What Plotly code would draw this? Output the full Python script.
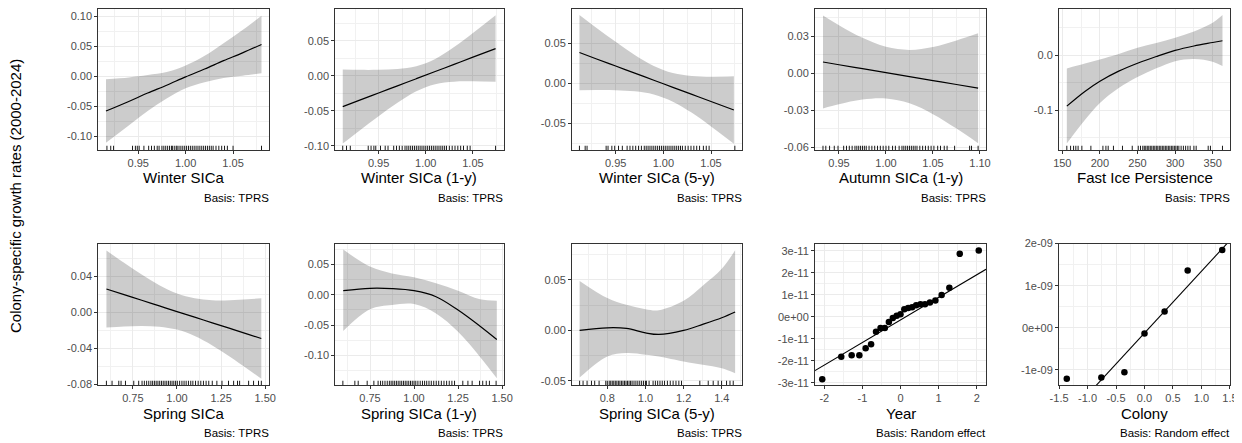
import plotly.graph_objects as go

FONT = "Liberation Sans, Arial, Helvetica, sans-serif"
OFF = 8                      # page body margin in the browser
W, H = 1242 - OFF, 443 - OFF

# ---------------- data ----------------
# Panel 1: Winter SICa
p1_x = [0.916, 0.94, 0.96, 0.98, 1.00, 1.02, 1.04, 1.06, 1.08]
p1_fit = [-0.058, -0.042, -0.028, -0.015, -0.001, 0.012, 0.026, 0.039, 0.053]
p1_hi = [-0.005, -0.002, 0.002, 0.007, 0.018, 0.034, 0.055, 0.077, 0.101]
p1_lo = [-0.111, -0.082, -0.058, -0.037, -0.020, -0.010, -0.003, 0.001, 0.005]
p1_rug = [0.917, 0.921, 0.924, 0.944, 0.947, 0.949, 0.951, 0.956, 0.961, 0.964, 0.967, 0.970, 0.972,
          0.975, 0.977, 0.979, 0.981, 0.983, 0.985, 0.986, 0.988, 0.990, 0.991, 0.993, 0.995, 0.997,
          0.999, 1.001, 1.003, 1.005, 1.007, 1.009, 1.011, 1.013, 1.015, 1.017, 1.019, 1.021, 1.023,
          1.025, 1.027, 1.029, 1.032, 1.035, 1.038, 1.041, 1.044, 1.050, 1.080]

# Panel 2: Winter SICa (1-y)
p2_x = [0.912, 0.93, 0.95, 0.97, 0.99, 1.01, 1.03, 1.05, 1.074]
p2_fit = [-0.044, -0.0348, -0.0246, -0.0144, -0.0042, 0.0060, 0.0163, 0.0265, 0.0388]
p2_hi = [0.0088, 0.0084, 0.0085, 0.0097, 0.0137, 0.024, 0.041, 0.061, 0.0863]
p2_lo = [-0.0968, -0.078, -0.0577, -0.0385, -0.0221, -0.012, -0.0084, -0.008, -0.0087]
p2_rug = [0.912, 0.916, 0.920, 0.939, 0.942, 0.945, 0.947, 0.952, 0.957, 0.960, 0.966, 0.969, 0.972,
          0.975, 0.978, 0.980, 0.982, 0.984, 0.986, 0.988, 0.990, 0.992, 0.994, 0.996, 0.998, 1.000,
          1.002, 1.004, 1.006, 1.008, 1.010, 1.012, 1.014, 1.016, 1.018, 1.020, 1.022, 1.025, 1.028,
          1.031, 1.034, 1.037, 1.040, 1.044, 1.047, 1.074]

# Panel 3: Winter SICa (5-y)
p3_x = [0.912, 0.93, 0.95, 0.97, 0.99, 1.01, 1.03, 1.05, 1.074]
p3_fit = [0.0383, 0.0303, 0.0215, 0.0126, 0.0038, -0.0051, -0.0139, -0.0228, -0.0334]
p3_hi = [0.0852, 0.069, 0.0516, 0.0352, 0.0215, 0.0127, 0.0091, 0.0082, 0.0086]
p3_lo = [-0.0086, -0.0084, -0.0086, -0.0100, -0.0139, -0.0229, -0.0369, -0.0538, -0.0754]
p3_rug = [0.912, 0.918, 0.920, 0.940, 0.942, 0.946, 0.949, 0.953, 0.957, 0.962, 0.965, 0.968, 0.971,
          0.974, 0.977, 0.980, 0.982, 0.984, 0.986, 0.988, 0.990, 0.992, 0.994, 0.996, 0.998, 1.000,
          1.002, 1.004, 1.006, 1.008, 1.010, 1.012, 1.014, 1.016, 1.018, 1.020, 1.023, 1.026, 1.029,
          1.032, 1.035, 1.038, 1.042, 1.045, 1.048, 1.075]

# Panel 4: Autumn SICa (1-y)
p4_x = [0.933, 0.95, 0.975, 1.0, 1.025, 1.05, 1.075, 1.098]
p4_fit = [0.0091, 0.0069, 0.0037, 0.0005, -0.0027, -0.0059, -0.0091, -0.0121]
p4_hi = [0.0467, 0.0389, 0.0287, 0.0214, 0.0189, 0.0213, 0.0266, 0.0324]
p4_lo = [-0.0285, -0.0251, -0.0213, -0.0204, -0.0243, -0.0331, -0.0448, -0.0566]
p4_rug = [0.933, 0.936, 0.940, 0.945, 0.949, 0.955, 0.958, 0.961, 0.964, 0.967, 0.969, 0.971, 0.973,
          0.975, 0.977, 0.979, 0.982, 0.985, 0.988, 0.991, 0.994, 0.997, 1.000, 1.003, 1.007, 1.010,
          1.014, 1.017, 1.019, 1.021, 1.023, 1.025, 1.027, 1.029, 1.031, 1.033, 1.036, 1.039, 1.042,
          1.045, 1.048, 1.051, 1.055, 1.058, 1.062, 1.065, 1.073, 1.089, 1.091, 1.098]

# Panel 5: Fast Ice Persistence
p5_x = [156, 180, 200, 225, 250, 275, 300, 325, 350, 363]
p5_fit = [-0.0927, -0.066, -0.0475, -0.0292, -0.0148, -0.0025, 0.0085, 0.0165, 0.0228, 0.026]
p5_hi = [-0.0242, -0.0155, -0.008, 0.002, 0.0133, 0.022, 0.0315, 0.043, 0.0588, 0.0727]
p5_lo = [-0.1606, -0.118, -0.087, -0.060, -0.040, -0.024, -0.011, -0.007, -0.012, -0.020]
p5_rug = [156, 161, 165, 168, 171, 176, 188, 204, 208, 211, 218, 230, 243, 251, 254, 257, 259, 261,
          263, 265, 267, 269, 271, 273, 275, 277, 279, 281, 283, 285, 287, 289, 291, 293, 295, 297,
          299, 301, 303, 305, 308, 311, 314, 317, 320, 325, 328, 344, 347, 363]

# Panel 6: Spring SICa
p6_x = [0.6, 0.7, 0.8, 0.9, 1.0, 1.1, 1.2, 1.3, 1.4, 1.478]
p6_fit = [0.026, 0.0197, 0.0135, 0.0072, 0.0009, -0.0053, -0.0116, -0.0178, -0.0241, -0.029]
p6_hi = [0.0688, 0.055, 0.042, 0.0302, 0.0209, 0.0157, 0.0135, 0.0135, 0.0145, 0.0157]
p6_lo = [-0.0168, -0.0156, -0.015, -0.0158, -0.0191, -0.0263, -0.0367, -0.0491, -0.0627, -0.0737]
p6_rug = [0.600, 0.632, 0.670, 0.683, 0.708, 0.755, 0.783, 0.802, 0.815, 0.828, 0.840, 0.852, 0.862,
          0.872, 0.882, 0.892, 0.902, 0.912, 0.922, 0.932, 0.942, 0.952, 0.962, 0.972, 0.982, 0.992,
          1.002, 1.015, 1.028, 1.040, 1.052, 1.065, 1.078, 1.090, 1.105, 1.120, 1.135, 1.150, 1.165,
          1.180, 1.200, 1.226, 1.255, 1.292, 1.321, 1.343, 1.355, 1.406, 1.434, 1.462, 1.478]

# Panel 7: Spring SICa (1-y)
p7_x = [0.598, 0.75, 0.875, 1.0, 1.125, 1.25, 1.375, 1.47]
p7_fit = [0.0066, 0.0105, 0.0100, 0.0066, -0.0033, -0.0253, -0.052, -0.0739]
p7_hi = [0.0745, 0.0464, 0.035, 0.0288, 0.019, 0.0066, -0.0077, -0.010]
p7_lo = [-0.060, -0.0242, -0.017, -0.0154, -0.031, -0.0613, -0.1026, -0.138]
p7_rug = [0.596, 0.664, 0.683, 0.734, 0.772, 0.796, 0.810, 0.822, 0.835, 0.848, 0.860, 0.870, 0.880,
          0.890, 0.900, 0.910, 0.920, 0.930, 0.940, 0.950, 0.960, 0.970, 0.980, 0.990, 1.000, 1.010,
          1.022, 1.035, 1.048, 1.060, 1.072, 1.085, 1.098, 1.112, 1.126, 1.140, 1.155, 1.170, 1.185,
          1.200, 1.215, 1.230, 1.277, 1.306, 1.330, 1.372, 1.390, 1.410, 1.428, 1.466]

# Panel 8: Spring SICa (5-y)
p8_x = [0.655, 0.8, 0.9, 1.0, 1.07, 1.2, 1.3, 1.4, 1.47]
p8_fit = [0.0, 0.0026, 0.002, -0.0024, -0.004, 0.0, 0.006, 0.0126, 0.0183]
p8_hi = [0.049, 0.032, 0.0253, 0.021, 0.020, 0.0293, 0.0443, 0.061, 0.0793]
p8_lo = [-0.0467, -0.0257, -0.0224, -0.024, -0.0257, -0.0307, -0.034, -0.0374, -0.0424]
p8_rug = [0.655, 0.673, 0.694, 0.717, 0.734, 0.757, 0.792, 0.800, 0.810, 0.818, 0.826, 0.834, 0.842,
          0.850, 0.858, 0.866, 0.874, 0.882, 0.890, 0.898, 0.906, 0.914, 0.922, 0.930, 0.940, 0.950,
          0.960, 0.970, 0.980, 0.990, 1.000, 1.005, 1.019, 1.040, 1.052, 1.064, 1.076, 1.088, 1.100,
          1.115, 1.130, 1.145, 1.160, 1.175, 1.189, 1.285, 1.329, 1.355, 1.381, 1.399, 1.425, 1.443,
          1.460]

# Panel 9: Year random effect (QQ)
p9_theo = [-2.054, -1.555, -1.282, -1.080, -0.915, -0.772, -0.643, -0.524, -0.412, -0.305, -0.202,
           -0.100, 0.0, 0.100, 0.202, 0.305, 0.412, 0.524, 0.643, 0.772, 0.915, 1.080, 1.282, 1.555,
           2.054]
p9_sample = [-2.84e-11, -1.81e-11, -1.75e-11, -1.75e-11, -1.43e-11, -1.24e-11, -0.68e-11, -0.51e-11,
             -0.51e-11, -0.23e-11, -0.05e-11, 0.05e-11, 0.12e-11, 0.35e-11, 0.41e-11, 0.44e-11,
             0.53e-11, 0.57e-11, 0.57e-11, 0.65e-11, 0.75e-11, 1.00e-11, 1.33e-11, 2.87e-11, 3.02e-11]
p9_intercept = -0.14e-11
p9_slope = 1.027e-11

# Panel 10: Colony random effect (QQ)
p10_theo = [-1.365, -0.758, -0.353, 0.0, 0.353, 0.758, 1.365]
p10_sample = [-1.21e-9, -1.18e-9, -1.055e-9, -0.134e-9, 0.386e-9, 1.362e-9, 1.85e-9]
p10_intercept = -0.125e-9
p10_slope = 1.468e-9

# tick labels
wint_xt = [0.95, 1.00, 1.05]
wint_xl = ["0.95", "1.00", "1.05"]
aut_xt = [0.95, 1.00, 1.05, 1.10]
aut_xl = ["0.95", "1.00", "1.05", "1.10"]
fip_xt = [150, 200, 250, 300, 350]
fip_xl = ["150", "200", "250", "300", "350"]
spr_xt = [0.75, 1.00, 1.25, 1.50]
spr_xl = ["0.75", "1.00", "1.25", "1.50"]
spr5_xt = [0.8, 1.0, 1.2, 1.4]
spr5_xl = ["0.8", "1.0", "1.2", "1.4"]
yr_xt = [-2, -1, 0, 1, 2]
yr_xl = ["-2", "-1", "0", "1", "2"]
col_xt = [-1.5, -1.0, -0.5, 0.0, 0.5, 1.0, 1.5]
col_xl = ["-1.5", "-1.0", "-0.5", "0.0", "0.5", "1.0", "1.5"]

p1_yt = [-0.10, -0.05, 0.00, 0.05, 0.10]
p1_yl = ["-0.10", "-0.05", "0.00", "0.05", "0.10"]
p2_yt = [-0.10, -0.05, 0.00, 0.05]
p2_yl = ["-0.10", "-0.05", "0.00", "0.05"]
p3_yt = [-0.05, 0.00, 0.05]
p3_yl = ["-0.05", "0.00", "0.05"]
p4_yt = [-0.06, -0.03, 0.00, 0.03]
p4_yl = ["-0.06", "-0.03", "0.00", "0.03"]
p5_yt = [-0.2, -0.1, 0.0, 0.1]
p5_yl = ["-0.2", "-0.1", "0.0", "0.1"]
p6_yt = [-0.08, -0.04, 0.00, 0.04]
p6_yl = ["-0.08", "-0.04", "0.00", "0.04"]
p7_yt = [-0.15, -0.10, -0.05, 0.00, 0.05]
p7_yl = ["-0.15", "-0.10", "-0.05", "0.00", "0.05"]
p8_yt = [-0.05, 0.00, 0.05]
p8_yl = ["-0.05", "0.00", "0.05"]
p9_yt = [-3e-11, -2e-11, -1e-11, 0, 1e-11, 2e-11, 3e-11]
p9_yl = ["-3e-11", "-2e-11", "-1e-11", "0e+00", "1e-11", "2e-11", "3e-11"]
p10_yt = [-1e-9, 0, 1e-9, 2e-9]
p10_yl = ["-1e-09", "0e+00", "1e-09", "2e-09"]

titles = ["Winter SICa", "Winter SICa (1-y)", "Winter SICa (5-y)", "Autumn SICa (1-y)",
          "Fast Ice Persistence", "Spring SICa", "Spring SICa (1-y)", "Spring SICa (5-y)",
          "Year", "Colony"]
captions = ["Basis: TPRS"] * 8 + ["Basis: Random effect"] * 2
y_title = "Colony-specific growth rates (2000-2024)"

# ---------------- layout geometry (screen pixels) ----------------
cols = [(98.3, 269.0), (335.3, 503.5), (572.0, 742.0), (815.0, 986.0), (1059.0, 1230.0)]
rows = [(8.5, 150.0), (243.5, 385.0)]

panels = [
    dict(kind="s", x=p1_x, fit=p1_fit, hi=p1_hi, lo=p1_lo, rug=p1_rug, xr=[0.9079, 1.0879],
         yr=[-0.123, 0.113], xt=wint_xt, xl=wint_xl, yt=p1_yt, yl=p1_yl),
    dict(kind="s", x=p2_x, fit=p2_fit, hi=p2_hi, lo=p2_lo, rug=p2_rug, xr=[0.9041, 1.0824],
         yr=[-0.106, 0.096], xt=wint_xt, xl=wint_xl, yt=p2_yt, yl=p2_yl),
    dict(kind="s", x=p3_x, fit=p3_fit, hi=p3_hi, lo=p3_lo, rug=p3_rug, xr=[0.9042, 1.0825],
         yr=[-0.0832, 0.0932], xt=wint_xt, xl=wint_xl, yt=p3_yt, yl=p3_yl),
    dict(kind="s", x=p4_x, fit=p4_fit, hi=p4_hi, lo=p4_lo, rug=p4_rug, xr=[0.9245, 1.1064],
         yr=[-0.0621, 0.0524], xt=aut_xt, xl=aut_xl, yt=p4_yt, yl=p4_yl),
    dict(kind="s", x=p5_x, fit=p5_fit, hi=p5_hi, lo=p5_lo, rug=p5_rug, xr=[145.6, 373.0],
         yr=[-0.1724, 0.0846], xt=fip_xt, xl=fip_xl, yt=p5_yt, yl=p5_yl),
    dict(kind="s", x=p6_x, fit=p6_fit, hi=p6_hi, lo=p6_lo, rug=p6_rug, xr=[0.554, 1.5215],
         yr=[-0.0806, 0.0765], xt=spr_xt, xl=spr_xl, yt=p6_yt, yl=p6_yl),
    dict(kind="s", x=p7_x, fit=p7_fit, hi=p7_hi, lo=p7_lo, rug=p7_rug, xr=[0.553, 1.508],
         yr=[-0.149, 0.0845], xt=spr_xt, xl=spr_xl, yt=p7_yt, yl=p7_yl),
    dict(kind="s", x=p8_x, fit=p8_fit, hi=p8_hi, lo=p8_lo, rug=p8_rug, xr=[0.615, 1.506],
         yr=[-0.054, 0.086], xt=spr5_xt, xl=spr5_xl, yt=p8_yt, yl=p8_yl),
    dict(kind="q", theo=p9_theo, samp=p9_sample, b0=p9_intercept, b1=p9_slope, xr=[-2.244, 2.244],
         yr=[-3.1e-11, 3.34e-11], xt=yr_xt, xl=yr_xl, yt=p9_yt, yl=p9_yl),
    dict(kind="q", theo=p10_theo, samp=p10_sample, b0=p10_intercept, b1=p10_slope,
         xr=[-1.5015, 1.5015], yr=[-1.36e-9, 2.003e-9], xt=col_xt, xl=col_xl, yt=p10_yt, yl=p10_yl),
]


def minors(major, rng):
    step = major[1] - major[0]
    vals = [major[0] - step / 2] + [a + step / 2 for a in major]
    lo, hi = min(rng), max(rng)
    return [v for v in vals if lo <= v <= hi]


def px(xs):
    return (xs - OFF) / W


def py(ys):
    return 1 - (ys - OFF) / H


fig = go.Figure()
annotations = []
layout = {}

for i, p in enumerate(panels):
    r, c = divmod(i, 5)
    left, right = cols[c]
    top, bottom = rows[r]
    n = "" if i == 0 else str(i + 1)
    xa, ya = "x" + n, "y" + n

    axis_common = dict(
        showline=True, mirror=True, linecolor="#333333", linewidth=1,
        ticks="outside", ticklen=3, tickwidth=1, tickcolor="#333333",
        showgrid=True, gridcolor="#EBEBEB", gridwidth=1.1, zeroline=False,
        tickfont=dict(family=FONT, size=11, color="#4D4D4D"),
        tickmode="array", fixedrange=True, automargin=False,
    )
    layout["xaxis" + n] = dict(
        axis_common, domain=[px(left), px(right)], anchor=ya, range=p["xr"],
        tickvals=p["xt"], ticktext=p["xl"],
        minor=dict(tickmode="array", tickvals=minors(p["xt"], p["xr"]), showgrid=True,
                   gridcolor="#F1F1F1", gridwidth=0.6, ticks=""),
    )
    layout["yaxis" + n] = dict(
        axis_common, domain=[py(bottom), py(top)], anchor=xa, range=p["yr"],
        tickvals=p["yt"], ticktext=p["yl"],
        minor=dict(tickmode="array", tickvals=minors(p["yt"], p["yr"]), showgrid=True,
                   gridcolor="#F1F1F1", gridwidth=0.6, ticks=""),
    )

    if p["kind"] == "s":
        xs = list(p["x"])
        fig.add_trace(go.Scatter(
            x=xs, y=p["lo"], xaxis=xa, yaxis=ya, mode="lines",
            line=dict(width=0, shape="spline", color="rgba(0,0,0,0)"), hoverinfo="skip"))
        fig.add_trace(go.Scatter(
            x=xs, y=p["hi"], xaxis=xa, yaxis=ya, mode="lines", fill="tonexty",
            fillcolor="rgba(0,0,0,0.2)", line=dict(width=0, shape="spline", color="rgba(0,0,0,0)"),
            hoverinfo="skip"))
        fig.add_trace(go.Scatter(
            x=xs, y=p["fit"], xaxis=xa, yaxis=ya, mode="lines",
            line=dict(color="black", width=1.2, shape="spline"), hoverinfo="skip"))
        y0 = p["yr"][0]
        y1 = y0 + 0.03 * (p["yr"][1] - p["yr"][0])
        rx, ry = [], []
        for v in p["rug"]:
            rx += [v, v, None]
            ry += [y0, y1, None]
        fig.add_trace(go.Scatter(
            x=rx, y=ry, xaxis=xa, yaxis=ya, mode="lines",
            line=dict(color="black", width=0.9), hoverinfo="skip"))
    else:
        lx = p["xr"]
        ly = [p["b0"] + p["b1"] * v for v in lx]
        fig.add_trace(go.Scatter(
            x=lx, y=ly, xaxis=xa, yaxis=ya, mode="lines",
            line=dict(color="black", width=1.1), hoverinfo="skip"))
        fig.add_trace(go.Scatter(
            x=p["theo"], y=p["samp"], xaxis=xa, yaxis=ya, mode="markers",
            marker=dict(color="black", size=6.5), hoverinfo="skip"))

    annotations.append(dict(
        text=titles[i], xref="paper", yref="paper", x=px((left + right) / 2),
        y=py(bottom + 28), xanchor="center", yanchor="middle", showarrow=False,
        font=dict(family=FONT, size=15, color="black")))
    annotations.append(dict(
        text=captions[i], xref="paper", yref="paper", x=px(right + 1.5),
        y=py(bottom + 48), xanchor="right", yanchor="middle", showarrow=False,
        font=dict(family=FONT, size=11.5, color="black")))

annotations.append(dict(
    text=y_title, xref="paper", yref="paper", x=px(15), y=py(196),
    xanchor="center", yanchor="middle", textangle=-90, showarrow=False,
    font=dict(family=FONT, size=15, color="black")))

fig.update_layout(
    width=W, height=H, margin=dict(l=0, r=0, t=0, b=0, pad=0, autoexpand=False),
    paper_bgcolor="white", plot_bgcolor="white", showlegend=False,
    annotations=annotations, **layout)

fig.write_html("out.html")
